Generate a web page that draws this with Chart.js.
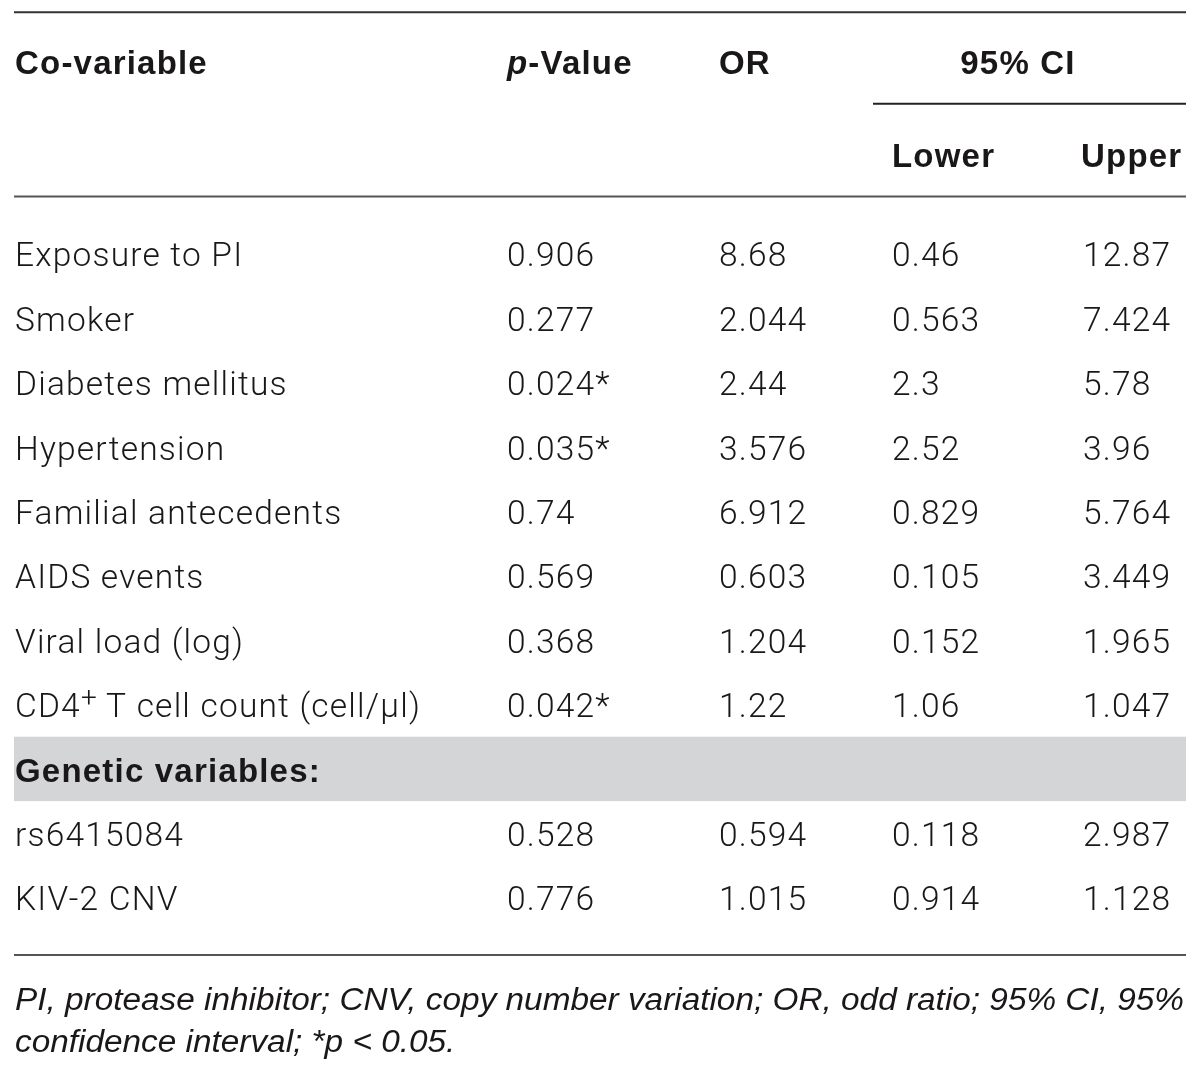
<!DOCTYPE html>
<html>
<head>
<meta charset="utf-8">
<script src="https://cdn.jsdelivr.net/npm/chart.js@4.4.1/dist/chart.umd.min.js"></script>
<style>
  html, body { margin: 0; padding: 0; background: #fff; }
  canvas { display: block; }
</style>
</head>
<body>
<canvas id="tableChart" width="1200" height="1072"></canvas>
<script>
// table data
var covariables = ['Exposure to PI', 'Smoker', 'Diabetes mellitus', 'Hypertension',
                   'Familial antecedents', 'AIDS events', 'Viral load (log)',
                   'CD4+ T cell count (cell/\u03bcl)'];
var pValues    = [0.906, 0.277, 0.024, 0.035, 0.74, 0.569, 0.368, 0.042];
var oddsRatio  = [8.68, 2.044, 2.44, 3.576, 6.912, 0.603, 1.204, 1.22];
var ciLower    = [0.46, 0.563, 2.3, 2.52, 0.829, 0.105, 0.152, 1.06];
var ciUpper    = [12.87, 7.424, 5.78, 3.96, 5.764, 3.449, 1.965, 1.047];

var geneticTitle     = 'Genetic variables:';
var geneticVariables = ['rs6415084', 'KIV-2 CNV'];
var geneticP         = [0.528, 0.776];
var geneticOR        = [0.594, 1.015];
var geneticLower     = [0.118, 0.914];
var geneticUpper     = [2.987, 1.128];

var headers    = ['Co-variable', 'p-Value', 'OR', '95% CI'];
var subHeaders = ['Lower', 'Upper'];
var footnote   = ['PI, protease inhibitor; CNV, copy number variation; OR, odd ratio; 95% CI, 95%',
                  'confidence interval; *p < 0.05.'];

// layout (x in table pixels, y in row units)
var cols = [15, 507, 719, 892, 1083];
var ciCenter = 1018;
var left = 14, right = 1186, ciRuleLeft = 873;
var headerRow = -3, subHeaderRow = -1.56;
var rules = [-3.77, -0.91, 10.87];
var ciRuleRow = -2.35;
var bandTop = 7.48, bandBottom = 8.48;
var footRows = [11.54, 12.19];
var textShift = 3;

var bodyFont = '300 33.5px Roboto';
var bodySpacing = '1.2px';
var boldFont = 'bold 33px "Liberation Sans"';
var boldSpacing = '1.2px';
var ink = '#1a1718';

function fmtP(p) {
    return p < 0.05 ? p + '*' : '' + p;
}

// rows: 0..7 covariables, 8 genetic title, 9..10 genetic variables
var columns = [
    covariables.concat([geneticTitle], geneticVariables),
    pValues.map(fmtP).concat([''], geneticP.map(fmtP)),
    oddsRatio.map(String).concat([''], geneticOR.map(String)),
    ciLower.map(String).concat([''], geneticLower.map(String)),
    ciUpper.map(String).concat([''], geneticUpper.map(String))
];

var datasets = columns.map(function (texts, c) {
    return {
        label: 'col' + c,
        texts: texts,
        data: texts.map(function (t, r) { return {x: cols[c], y: r}; }),
        pointRadius: 0,
        showLine: false
    };
});

function drawCD4(ctx, text, x, y) {
    var parts = text.split('+');
    ctx.fillText(parts[0], x, y);
    var w = ctx.measureText(parts[0]).width;
    ctx.save();
    ctx.font = '300 28px Roboto';
    ctx.letterSpacing = '0px';
    ctx.fillText('+', x + w, y - 9);
    var w2 = ctx.measureText('+').width;
    ctx.restore();
    ctx.fillText(parts[1], x + w + w2, y);
}

var tablePlugin = {
    id: 'tablePlugin',
    afterDatasetsDraw: function (chart) {
        var ctx = chart.ctx;
        var xs = chart.scales.x, ys = chart.scales.y;
        ctx.save();

        // shaded band
        ctx.fillStyle = '#d4d5d7';
        var bt = ys.getPixelForValue(bandTop), bb = ys.getPixelForValue(bandBottom);
        ctx.fillRect(xs.getPixelForValue(left), bt, xs.getPixelForValue(right) - xs.getPixelForValue(left), bb - bt);

        // rules
        ctx.lineWidth = 2;
        rules.forEach(function (r, i) {
            var y = ys.getPixelForValue(r);
            ctx.strokeStyle = i === 0 ? '#333' : '#555';
            ctx.beginPath();
            ctx.moveTo(xs.getPixelForValue(left), y);
            ctx.lineTo(xs.getPixelForValue(right), y);
            ctx.stroke();
        });
        ctx.strokeStyle = '#222';
        var cy = ys.getPixelForValue(ciRuleRow);
        ctx.beginPath();
        ctx.moveTo(xs.getPixelForValue(ciRuleLeft), cy);
        ctx.lineTo(xs.getPixelForValue(right), cy);
        ctx.stroke();

        // headers
        ctx.fillStyle = ink;
        ctx.textBaseline = 'middle';
        ctx.textAlign = 'left';
        ctx.font = boldFont;
        ctx.letterSpacing = boldSpacing;
        var hy = ys.getPixelForValue(headerRow) + textShift;
        ctx.fillText(headers[0], xs.getPixelForValue(cols[0]), hy);
        var px = xs.getPixelForValue(cols[1]);
        ctx.font = 'italic ' + boldFont;
        ctx.fillText('p', px, hy);
        var pw = ctx.measureText('p').width;
        ctx.font = boldFont;
        ctx.fillText(headers[1].slice(1), px + pw, hy);
        ctx.fillText(headers[2], xs.getPixelForValue(cols[2]), hy);
        ctx.textAlign = 'center';
        ctx.fillText(headers[3], xs.getPixelForValue(ciCenter), hy);
        ctx.textAlign = 'left';
        var sy = ys.getPixelForValue(subHeaderRow) + textShift;
        ctx.fillText(subHeaders[0], xs.getPixelForValue(cols[3]), sy);
        ctx.fillText(subHeaders[1], xs.getPixelForValue(cols[4] - 2), sy);

        // cells
        chart.data.datasets.forEach(function (ds, c) {
            var meta = chart.getDatasetMeta(c);
            meta.data.forEach(function (pt, r) {
                var t = ds.texts[r];
                if (!t) return;
                if (t === geneticTitle) {
                    ctx.font = boldFont;
                    ctx.letterSpacing = boldSpacing;
                } else {
                    ctx.font = bodyFont;
                    ctx.letterSpacing = bodySpacing;
                }
                var y = pt.y + textShift;
                if (t.indexOf('+') > 0) {
                    drawCD4(ctx, t, pt.x, y);
                } else {
                    ctx.fillText(t, pt.x, y);
                }
            });
        });

        // footnote
        ctx.letterSpacing = '0px';
        ctx.font = 'italic 31px "Liberation Sans Narrow", "Liberation Sans"';
        var fx = xs.getPixelForValue(15);
        var target = xs.getPixelForValue(1184) - fx;
        var sx = target / ctx.measureText(footnote[0]).width;
        footnote.forEach(function (line, i) {
            ctx.save();
            ctx.translate(fx, ys.getPixelForValue(footRows[i]) + textShift);
            ctx.scale(sx, 1);
            ctx.fillText(line, 0, 0);
            ctx.restore();
        });

        ctx.restore();
    }
};

var drawTable = document.getElementById('tableChart').getContext('2d');
new Chart(drawTable, {
    type: 'scatter',
    data: {datasets: datasets},
    options: {
        responsive: false,
        animation: false,
        devicePixelRatio: 1,
        layout: {padding: 0},
        plugins: {legend: {display: false}, tooltip: {enabled: false}},
        scales: {
            x: {type: 'linear', display: false, min: 0, max: 1200},
            y: {type: 'linear', display: false, reverse: true, min: -255 / 64.4, max: (1072 - 255) / 64.4}
        }
    },
    plugins: [tablePlugin]
});
</script>
</body>
</html>
